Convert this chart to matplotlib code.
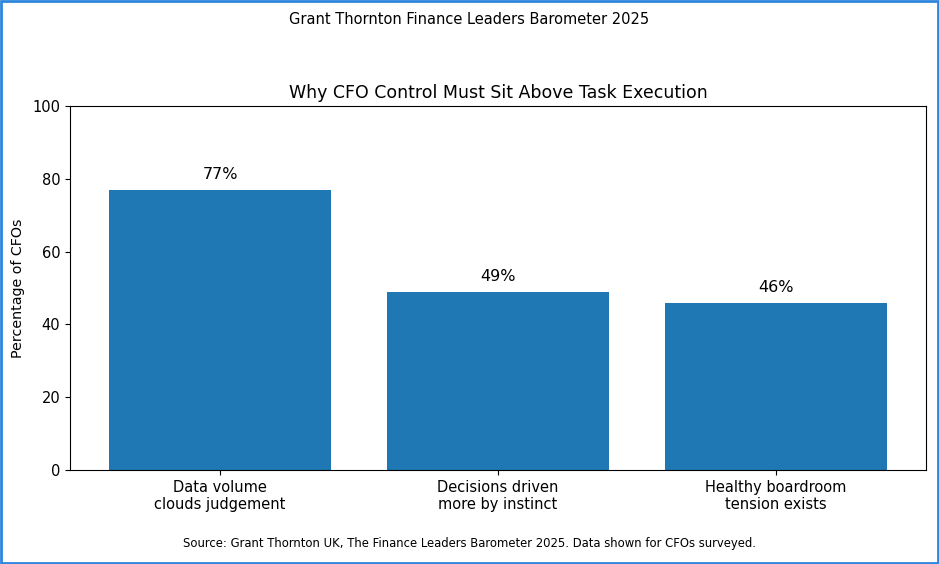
import matplotlib
matplotlib.use('Agg')
import matplotlib.pyplot as plt
from matplotlib.patches import Rectangle

categories = ['Data volume\nclouds judgement', 'Decisions driven\nmore by instinct', 'Healthy boardroom\ntension exists']
values = [77, 49, 46]

fig = plt.figure(figsize=(9.39, 5.64), dpi=100)
ax = fig.add_axes([0.0746, 0.1667, 0.9115, 0.6453])

x = range(len(categories))
bars = ax.bar(x, values, width=0.8, color='#1f77b4')
for b, v in zip(bars, values):
    ax.text(b.get_x() + b.get_width() / 2, v + 2, f'{v}%', ha='center', va='bottom', fontsize=11.5)

ax.set_xticks(list(x))
ax.set_xticklabels(categories, fontsize=10.5)
ax.tick_params(axis='y', labelsize=10.5)
ax.set_ylim(0, 100)
ax.set_ylabel('Percentage of CFOs', fontsize=10.3, labelpad=5)
ax.set_title('Why CFO Control Must Sit Above Task Execution', fontsize=12.5, pad=6)

fig.suptitle('Grant Thornton Finance Leaders Barometer 2025', fontsize=10.5, y=0.978)
fig.text(0.5, 0.03, 'Source: Grant Thornton UK, The Finance Leaders Barometer 2025. Data shown for CFOs surveyed.',
         ha='center', fontsize=8.4)

# blue frame round the whole figure
fig.patches.append(Rectangle((0.001, 0.002), 0.998, 0.996, transform=fig.transFigure,
                             fill=False, edgecolor='#2e86de', linewidth=2))

fig.savefig('out.png', dpi=100)
